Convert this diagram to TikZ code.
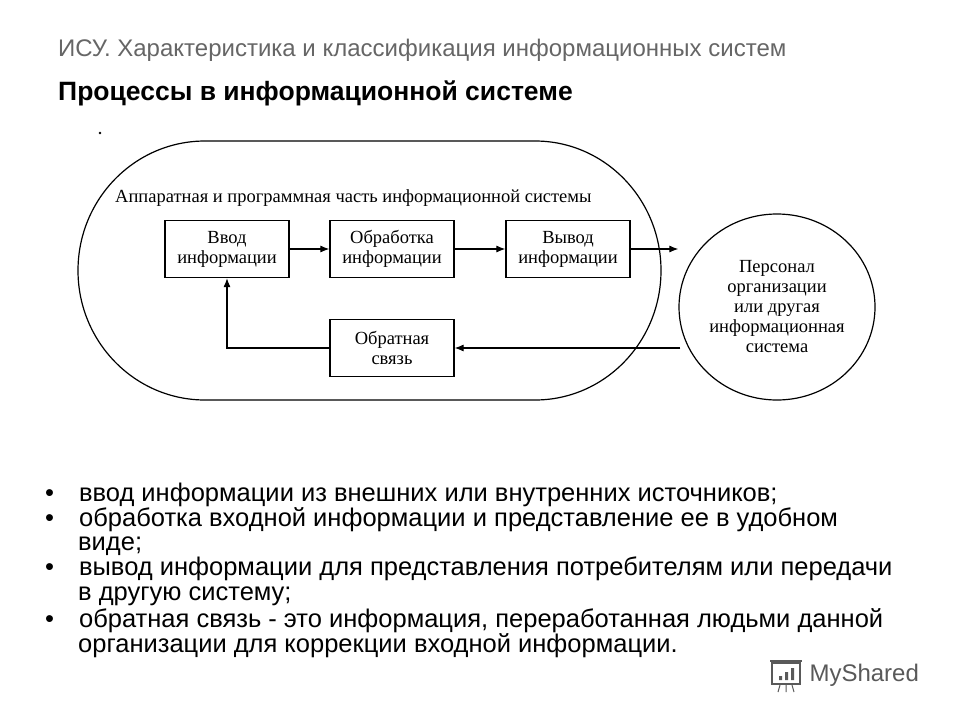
\documentclass[tikz,border=0pt]{standalone}
\usepackage{fontspec}
\usetikzlibrary{shapes.geometric,arrows.meta}
\setmainfont{Liberation Sans}
\newfontfamily\dserif{Liberation Serif}
\begin{document}
\begin{tikzpicture}[x=1pt,y=-1pt,
  dfont/.style={font=\dserif\fontsize{18.5}{20}\selectfont},
  pbox/.style={draw,line width=1.2pt,minimum width=124pt,minimum height=57pt,align=center,dfont},
  conn/.style={line width=1.1pt,-{Latex[length=9pt,width=7pt]}},
  bul/.style={anchor=base west,align=left,font=\fontsize{25.5}{25}\selectfont,inner sep=0pt}]
\useasboundingbox (0,0) rectangle (960,720);
\fill[white] (0,0) rectangle (960,720);
\node[anchor=west,text=black!60,font=\fontsize{24}{26}\selectfont,inner sep=0pt] (h1) at (58,50) {ИСУ. Характеристика и классификация информационных систем};
\node[anchor=west,font=\bfseries\fontsize{26.5}{28}\selectfont,inner sep=0pt] (h2) at (58,93) {Процессы в информационной системе};
\node[circle,fill,inner sep=0.9pt] (dot) at (100,133) {};
\draw[line width=1.2pt] (205,141) -- (535,141) arc[start angle=-90,end angle=90,x radius=126,y radius=129.5] -- (205,400) arc[start angle=90,end angle=270,x radius=127,y radius=129.5] -- cycle;
\node[anchor=west,dfont,inner sep=0pt] (lbl) at (115,198) {Аппаратная и программная часть информационной системы};
\node[pbox] (vvod) at (227,249) {Ввод\\информации};
\node[pbox] (obr) at (392,249) {Обработка\\информации};
\node[pbox] (vyv) at (568,249) {Вывод\\информации};
\node[pbox] (fb) at (392,348) {Обратная\\связь};
\node[draw,ellipse,line width=1.2pt,minimum width=196pt,minimum height=186pt,align=center,inner sep=0pt,dfont] (pers) at (777,307) {Персонал\\организации\\или другая\\информационная\\система};
\draw[conn] (vvod) -- (obr);
\draw[conn] (obr) -- (vyv);
\draw[conn] (vyv.east) -- (vyv.east -| pers.west);
\coordinate (fin) at (pers.west |- fb.east);
\draw[conn] ([xshift=2pt]fin) -- (fb.east);
\draw[conn] (fb.west) -| (vvod.south);
\node[bul] (b1) at (45,501) {•\hspace{25pt}ввод информации из внешних или внутренних источников;};
\node[bul] (b2) at (45,526) {•\hspace{25pt}обработка входной информации и представление ее в удобном};
\node[bul] (b2b) at (78,550) {виде;};
\node[bul] (b3) at (45,575) {•\hspace{25pt}вывод информации для представления потребителям или передачи};
\node[bul] (b3b) at (78,600) {в другую систему;};
\node[bul] (b4) at (45,627) {•\hspace{25pt}обратная связь - это информация, переработанная людьми данной};
\node[bul] (b4b) at (78,652) {организации для коррекции входной информации.};
\node[anchor=west,text=black!65,font=\fontsize{24}{26}\selectfont] (logo) at (806,675) {MyShared};
\draw[black!65,line width=1.5pt] (772,663) rectangle (800,684);
\draw[black!65,line width=1.5pt] (770,661) -- (802,661);
\fill[black!65] (779,676) rectangle (782,680) (785,672) rectangle (788,680) (791,668) rectangle (794,680);
\draw[black!65,line width=1pt] (780,685) -- (778,692) (786,685) -- (786,692) (792,685) -- (794,692);
\end{tikzpicture}
\end{document}
